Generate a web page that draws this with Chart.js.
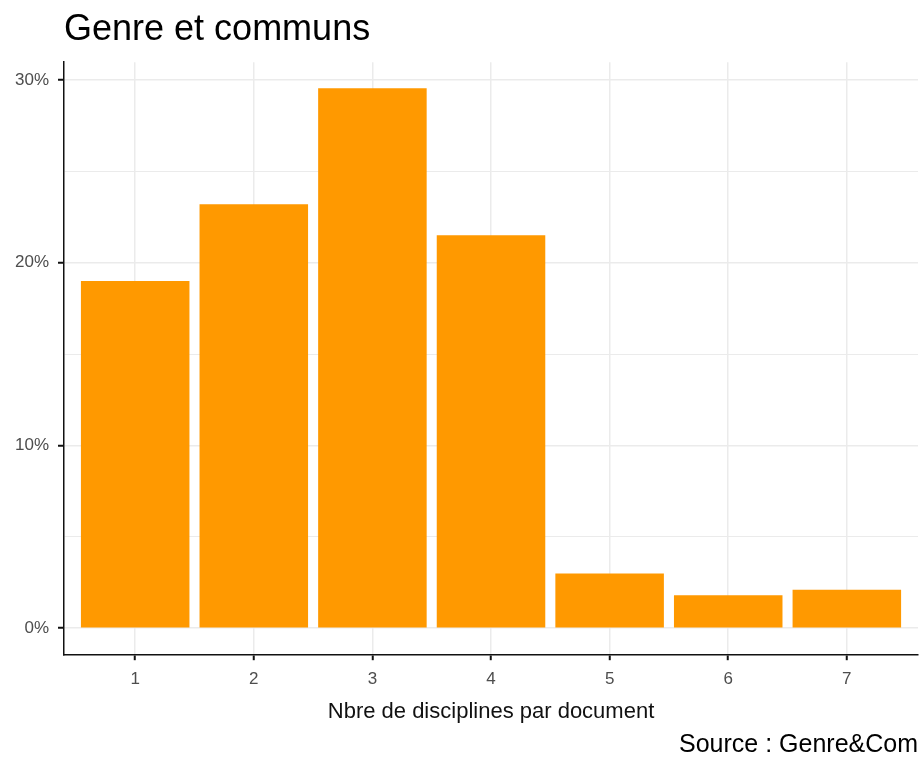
<!DOCTYPE html>
<html>
<head>
<meta charset="utf-8">
<script src="https://cdn.jsdelivr.net/npm/chart.js@4/dist/chart.umd.min.js"></script>
<style>
  html, body { margin: 0; padding: 0; background: #fff; }
  #wrap { width: 921px; height: 758px; }
</style>
</head>
<body>
<div id="wrap"><canvas id="genreChart"></canvas></div>
<script>
// données
const categories = ['1', '2', '3', '4', '5', '6', '7'];
const pourcentages = [19.0, 23.2, 29.55, 21.5, 3.0, 1.8, 2.1];
const yMajorTicks = [0, 10, 20, 30];
const yMinorTicks = [5, 15, 25];
const titre = 'Genre et communs';
const titreX = 'Nbre de disciplines par document';
const source = 'Source : Genre&Com';

const police = "'Liberation Sans', Arial, sans-serif";
const grisGrille = '#EBEBEB';

document.addEventListener('DOMContentLoaded', function () {
    const ctx = document.getElementById('genreChart').getContext('2d');
    const points = categories.map((c, i) => ({ x: Number(c), y: pourcentages[i] }));

    const genreChart = new Chart(ctx, {
        type: 'bar',
        data: {
            datasets: [{
                data: points,
                backgroundColor: '#FF9900',
                borderWidth: 0,
                categoryPercentage: 1,
                barPercentage: 0.915
            }]
        },
        options: {
            responsive: true,
            maintainAspectRatio: false,
            animation: false,
            layout: { padding: { left: 6, right: 3, top: 0, bottom: 0 } },
            plugins: {
                legend: { display: false },
                tooltip: { enabled: false },
                title: {
                    display: true,
                    text: titre,
                    align: 'start',
                    fullSize: false,
                    color: '#000',
                    font: { family: police, size: 36, weight: 'normal', lineHeight: 1.2 },
                    padding: { top: 8, bottom: 11 }
                },
                subtitle: {
                    display: true,
                    text: source,
                    position: 'bottom',
                    align: 'end',
                    fullSize: false,
                    color: '#000',
                    font: { family: police, size: 25, weight: 'normal', lineHeight: 1 },
                    padding: { top: 0, bottom: 0 }
                }
            },
            scales: {
                x: {
                    type: 'linear',
                    min: 0.4,
                    max: 7.6,
                    offset: false,
                    afterBuildTicks: function (scale) {
                        scale.ticks = categories.map(c => ({ value: Number(c) }));
                    },
                    ticks: {
                        color: '#4D4D4D',
                        padding: 9,
                        font: { family: police, size: 17 },
                        callback: function (v) { return String(v); }
                    },
                    grid: {
                        offset: false,
                        color: grisGrille,
                        lineWidth: 1.5,
                        tickLength: 5,
                        tickColor: '#111',
                        tickWidth: 2
                    },
                    border: { display: true, color: '#111', width: 1.5 },
                    title: {
                        display: true,
                        text: titreX,
                        color: '#111',
                        font: { family: police, size: 22 },
                        padding: { top: 0, bottom: 8 }
                    }
                },
                y: {
                    min: -1.475,
                    max: 30.975,
                    afterBuildTicks: function (scale) {
                        const all = yMajorTicks.concat(yMinorTicks).sort((a, b) => a - b);
                        scale.ticks = all.map(v => ({ value: v }));
                    },
                    ticks: {
                        color: '#4D4D4D',
                        padding: 9,
                        font: { family: police, size: 17 },
                        callback: function (v) {
                            return yMajorTicks.includes(v) ? v + '%' : '';
                        }
                    },
                    grid: {
                        color: grisGrille,
                        lineWidth: function (c) {
                            return c.tick && yMajorTicks.includes(c.tick.value) ? 1.5 : 1;
                        },
                        tickLength: 6,
                        tickColor: function (c) {
                            return c.tick && yMajorTicks.includes(c.tick.value) ? '#111' : 'rgba(0,0,0,0)';
                        },
                        tickWidth: 2
                    },
                    border: { display: true, color: '#111', width: 1.5 }
                }
            }
        }
    });
});
</script>
</body>
</html>
